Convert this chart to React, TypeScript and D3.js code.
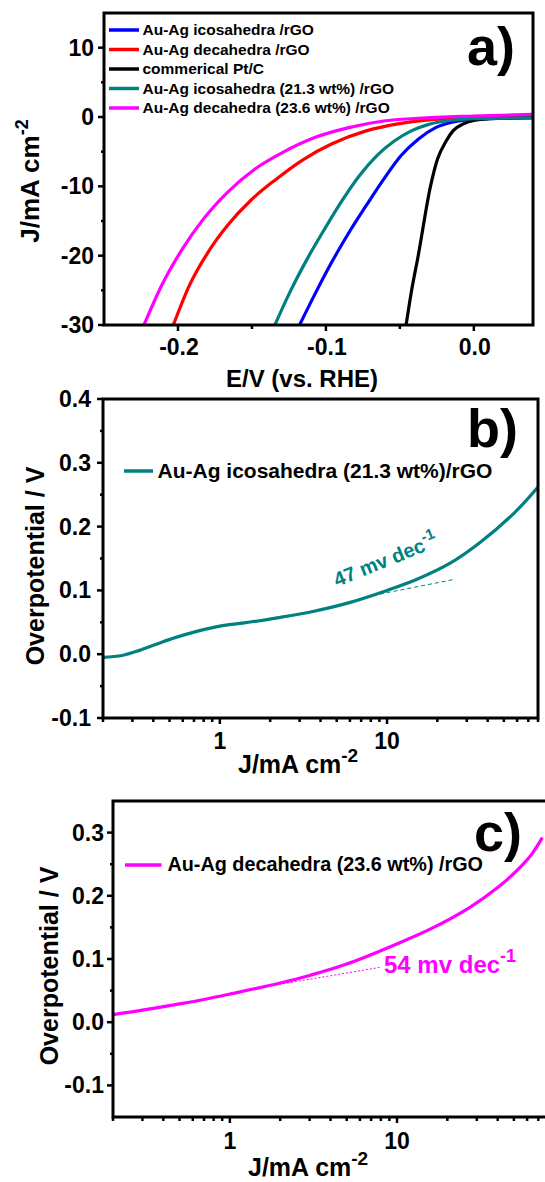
import React from "react";
import * as d3 from "d3";

// ---------- Panel a: polarization curves ----------
const seriesNamesA = [
  "Au-Ag icosahedra /rGO",
  "Au-Ag decahedra /rGO",
  "commerical Pt/C",
  "Au-Ag icosahedra (21.3 wt%) /rGO",
  "Au-Ag decahedra (23.6 wt%) /rGO",
];
const seriesColorsA = ["#0000ff", "#ff0000", "#000000", "#008080", "#ff00ff"];

const potentialBlue = [-0.1178, -0.108, -0.0962, -0.0845, -0.0728, -0.061, -0.0493, -0.0376, -0.0258, -0.0141, 0, 0.04];
const currentBlue = [-30, -25.8, -21, -16.7, -12.8, -9.0, -5.6, -3.2, -1.54, -0.72, -0.34, -0.1];

const potentialRed = [-0.2031, -0.1925, -0.1784, -0.1667, -0.1502, -0.1338, -0.115, -0.0962, -0.0728, -0.0493, -0.0258, 0, 0.04];
const currentRed = [-30, -24.4, -19.1, -15.7, -11.9, -9.0, -6.1, -3.9, -2.0, -0.91, -0.34, 0, 0.29];

const potentialPt = [-0.0458, -0.0423, -0.0376, -0.0293, -0.0246, -0.0188, -0.0141, -0.007, 0, 0.015, 0.04];
const currentPt = [-30, -25.3, -20, -10, -6.1, -3.5, -2.0, -1.0, -0.5, -0.2, -0.1];

const potentialTeal = [-0.1345, -0.1244, -0.1127, -0.101, -0.0892, -0.0775, -0.0657, -0.054, -0.0423, -0.0305, -0.0141, 0, 0.04];
const currentTeal = [-30, -25.3, -20.5, -16.2, -12.1, -8.5, -5.6, -3.5, -2.0, -1.06, -0.43, -0.24, -0.14];

const potentialMagenta = [-0.223, -0.2113, -0.1972, -0.1831, -0.1667, -0.1479, -0.1291, -0.108, -0.0845, -0.061, -0.0376, 0, 0.04];
const currentMagenta = [-30, -24.4, -19.1, -14.8, -10.9, -7.5, -5.1, -3.0, -1.54, -0.58, -0.19, 0.14, 0.38];

const xTicksA = [-0.2, -0.1, 0.0];
const xTickLabelsA = ["-0.2", "-0.1", "0.0"];
const xMinorA = [-0.15, -0.05];
const yTicksA = [-30, -20, -10, 0, 10];
const yTickLabelsA = ["-30", "-20", "-10", "0", "10"];
const yMinorA = [-25, -15, -5, 5];

// ---------- Panel b: Tafel, icosahedra 21.3 wt% ----------
const currentB = [0.2, 0.26, 0.33, 0.42, 0.54, 0.71, 1, 1.4, 2.2, 3.6, 5.8, 10, 15, 24, 36, 58, 80];
const overpotB = [-0.005, -0.002, 0.006, 0.016, 0.026, 0.035, 0.044, 0.049, 0.057, 0.067, 0.08, 0.1, 0.117, 0.143, 0.175, 0.222, 0.262];
const tafelCurrentB = [7.5, 25];
const tafelOverpotB = [0.09, 0.117];

const yTicksB = [-0.1, 0, 0.1, 0.2, 0.3, 0.4];
const yTickLabelsB = ["-0.1", "0.0", "0.1", "0.2", "0.3", "0.4"];
const yMinorB = [-0.05, 0.05, 0.15, 0.25, 0.35];

// ---------- Panel c: Tafel, decahedra 23.6 wt% ----------
const currentC = [0.2, 0.3, 0.5, 0.7, 1, 2, 3, 5, 10, 16, 27, 40, 55, 64, 74];
const overpotC = [0.012, 0.019, 0.029, 0.036, 0.0445, 0.062, 0.074, 0.092, 0.124, 0.148, 0.181, 0.213, 0.246, 0.266, 0.292];
const tafelCurrentC = [1.5, 8];
const tafelOverpotC = [0.0545, 0.087];

const yTicksC = [-0.1, 0, 0.1, 0.2, 0.3];
const yTickLabelsC = ["-0.1", "0.0", "0.1", "0.2", "0.3"];
const yMinorC = [-0.05, 0.05, 0.15, 0.25];

const logMajor = [1, 10];
const logMajorLabels = ["1", "10"];

const FONT = "'Liberation Sans', Arial, Helvetica, sans-serif";
const TEAL = "#008080";
const MAGENTA = "#ff00ff";

function zip(a: number[], b: number[]): [number, number][] {
  return a.map((v, i) => [v, b[i]]);
}

function Frame({ x0, x1, y0, y1 }: { x0: number; x1: number; y0: number; y1: number }) {
  return <rect x={x0} y={y0} width={x1 - x0} height={y1 - y0} fill="none" stroke="#000" strokeWidth={3} />;
}

export default function App() {
  // scales
  const xA = d3.scaleLinear().domain([-0.25, 0.04]).range([104, 533]);
  const yA = d3.scaleLinear().domain([-30, 15]).range([325, 13]);
  const xB = d3.scaleLog().domain([0.2, 80]).range([103, 538]);
  const yB = d3.scaleLinear().domain([-0.1, 0.4]).range([718, 399]);
  const xC = d3.scaleLog().domain([0.2, 80]).range([113, 548]);
  const yC = d3.scaleLinear().domain([-0.15, 0.35]).range([1117, 801]);

  const lineA = d3
    .line<[number, number]>()
    .x((d) => xA(d[0]))
    .y((d) => yA(d[1]))
    .curve(d3.curveMonotoneX);
  const lineB = d3
    .line<[number, number]>()
    .x((d) => xB(d[0]))
    .y((d) => yB(d[1]))
    .curve(d3.curveCatmullRom.alpha(0.5));
  const lineC = d3
    .line<[number, number]>()
    .x((d) => xC(d[0]))
    .y((d) => yC(d[1]))
    .curve(d3.curveCatmullRom.alpha(0.5));

  const seriesA = [
    zip(potentialBlue, currentBlue),
    zip(potentialRed, currentRed),
    zip(potentialPt, currentPt),
    zip(potentialTeal, currentTeal),
    zip(potentialMagenta, currentMagenta),
  ];

  const tickFont = { fontFamily: FONT, fontWeight: 700, fontSize: 23 } as const;

  const logTicksB = xB.ticks().filter((t) => !logMajor.some((m) => Math.abs(m - t) < 1e-9));
  const logTicksC = xC.ticks().filter((t) => !logMajor.some((m) => Math.abs(m - t) < 1e-9));

  return (
    <svg
      width={545}
      height={1182}
      style={{ position: "absolute", left: 0, top: 0, background: "#fff" }}
      xmlns="http://www.w3.org/2000/svg"
    >
      <rect x={0} y={0} width={545} height={1182} fill="#fff" />
      <defs>
        <clipPath id="clipA">
          <rect x={104} y={13} width={429} height={312} />
        </clipPath>
        <clipPath id="clipB">
          <rect x={103} y={399} width={435} height={319} />
        </clipPath>
        <clipPath id="clipC">
          <rect x={113} y={801} width={435} height={316} />
        </clipPath>
      </defs>

      {/* ================= Panel a ================= */}
      <g>
        <g clipPath="url(#clipA)">
          {seriesA.map((s, i) => (
            <path key={i} d={lineA(s) || ""} fill="none" stroke={seriesColorsA[i]} strokeWidth={3.2} />
          ))}
        </g>
        <Frame x0={104} x1={533} y0={13} y1={325} />
        {xTicksA.map((t, i) => (
          <g key={"xa" + i}>
            <line x1={xA(t)} x2={xA(t)} y1={325} y2={331} stroke="#000" strokeWidth={2.5} />
            <text x={xA(t) + 1} y={355} textAnchor="middle" style={tickFont}>
              {xTickLabelsA[i]}
            </text>
          </g>
        ))}
        {xMinorA.map((t, i) => (
          <line key={"xam" + i} x1={xA(t)} x2={xA(t)} y1={325} y2={329} stroke="#000" strokeWidth={2.5} />
        ))}
        {yTicksA.map((t, i) => (
          <g key={"ya" + i}>
            <line x1={98} x2={104} y1={yA(t)} y2={yA(t)} stroke="#000" strokeWidth={2.5} />
            <text x={94} y={yA(t) + 8} textAnchor="end" style={tickFont}>
              {yTickLabelsA[i]}
            </text>
          </g>
        ))}
        {yMinorA.map((t, i) => (
          <line key={"yam" + i} x1={101} x2={104} y1={yA(t)} y2={yA(t)} stroke="#000" strokeWidth={2.5} />
        ))}
        <text
          transform="translate(39,181) rotate(-90)"
          textAnchor="middle"
          style={{ fontFamily: FONT, fontWeight: 700, fontSize: 26 }}
        >
          J/mA cm
          <tspan dy={-11} fontSize={18}>
            -2
          </tspan>
        </text>
        <text x={302} y={387} textAnchor="middle" style={{ fontFamily: FONT, fontWeight: 700, fontSize: 24 }}>
          E/V (vs. RHE)
        </text>
        {seriesNamesA.map((name, i) => {
          const cy = 30 + i * 19.5;
          return (
            <g key={"lg" + i}>
              <line x1={109} x2={139} y1={cy} y2={cy} stroke={seriesColorsA[i]} strokeWidth={3.5} />
              <text x={142.5} y={cy + 5.4} style={{ fontFamily: FONT, fontWeight: 700, fontSize: 15.5 }}>
                {name}
              </text>
            </g>
          );
        })}
        <text x={467} y={65} style={{ fontFamily: FONT, fontWeight: 700, fontSize: 54 }}>
          a)
        </text>
      </g>

      {/* ================= Panel b ================= */}
      <g>
        <g clipPath="url(#clipB)">
          <path
            d={lineB(zip(tafelCurrentB, tafelOverpotB)) || ""}
            fill="none"
            stroke={TEAL}
            strokeWidth={1}
            strokeDasharray="4,3"
          />
          <path d={lineB(zip(currentB, overpotB)) || ""} fill="none" stroke={TEAL} strokeWidth={3.2} />
        </g>
        <Frame x0={103} x1={538} y0={399} y1={718} />
        {logMajor.map((t, i) => (
          <g key={"xb" + i}>
            <line x1={xB(t)} x2={xB(t)} y1={718} y2={724} stroke="#000" strokeWidth={2.5} />
            <text x={xB(t)} y={749} textAnchor="middle" style={tickFont}>
              {logMajorLabels[i]}
            </text>
          </g>
        ))}
        {logTicksB.map((t, i) => (
          <line key={"xbm" + i} x1={xB(t)} x2={xB(t)} y1={718} y2={722} stroke="#000" strokeWidth={2.5} />
        ))}
        {yTicksB.map((t, i) => (
          <g key={"yb" + i}>
            <line x1={97} x2={103} y1={yB(t)} y2={yB(t)} stroke="#000" strokeWidth={2.5} />
            <text x={91} y={yB(t) + 8} textAnchor="end" style={tickFont}>
              {yTickLabelsB[i]}
            </text>
          </g>
        ))}
        {yMinorB.map((t, i) => (
          <line key={"ybm" + i} x1={100} x2={103} y1={yB(t)} y2={yB(t)} stroke="#000" strokeWidth={2.5} />
        ))}
        <text
          transform="translate(44,566) rotate(-90)"
          textAnchor="middle"
          style={{ fontFamily: FONT, fontWeight: 700, fontSize: 25 }}
        >
          Overpotential / V
        </text>
        <text x={238} y={773} style={{ fontFamily: FONT, fontWeight: 700, fontSize: 25 }}>
          J/mA cm
          <tspan dy={-11} fontSize={19}>
            -2
          </tspan>
        </text>
        <line x1={124} x2={153} y1={471} y2={471} stroke={TEAL} strokeWidth={3.5} />
        <text x={157.5} y={477.5} style={{ fontFamily: FONT, fontWeight: 700, fontSize: 21 }}>
          Au-Ag icosahedra (21.3 wt%)/rGO
        </text>
        <text
          transform="translate(337,587) rotate(-22)"
          style={{ fontFamily: FONT, fontWeight: 700, fontSize: 20 }}
          fill={TEAL}
        >
          47 mv dec
          <tspan dy={-9} fontSize={15}>
            -1
          </tspan>
        </text>
        <text x={467} y={447} style={{ fontFamily: FONT, fontWeight: 700, fontSize: 54 }}>
          b)
        </text>
      </g>

      {/* ================= Panel c ================= */}
      <g>
        <g clipPath="url(#clipC)">
          <path
            d={lineC(zip(tafelCurrentC, tafelOverpotC)) || ""}
            fill="none"
            stroke={MAGENTA}
            strokeWidth={1}
            strokeDasharray="2,2"
          />
          <path d={lineC(zip(currentC, overpotC)) || ""} fill="none" stroke={MAGENTA} strokeWidth={3.2} />
        </g>
        <Frame x0={113} x1={548} y0={801} y1={1117} />
        {logMajor.map((t, i) => (
          <g key={"xc" + i}>
            <line x1={xC(t)} x2={xC(t)} y1={1117} y2={1123} stroke="#000" strokeWidth={2.5} />
            <text x={xC(t)} y={1149} textAnchor="middle" style={tickFont}>
              {logMajorLabels[i]}
            </text>
          </g>
        ))}
        {logTicksC.map((t, i) => (
          <line key={"xcm" + i} x1={xC(t)} x2={xC(t)} y1={1117} y2={1121} stroke="#000" strokeWidth={2.5} />
        ))}
        {yTicksC.map((t, i) => (
          <g key={"yc" + i}>
            <line x1={107} x2={113} y1={yC(t)} y2={yC(t)} stroke="#000" strokeWidth={2.5} />
            <text x={104} y={yC(t) + 8} textAnchor="end" style={tickFont}>
              {yTickLabelsC[i]}
            </text>
          </g>
        ))}
        {yMinorC.map((t, i) => (
          <line key={"ycm" + i} x1={110} x2={113} y1={yC(t)} y2={yC(t)} stroke="#000" strokeWidth={2.5} />
        ))}
        <text
          transform="translate(58,966) rotate(-90)"
          textAnchor="middle"
          style={{ fontFamily: FONT, fontWeight: 700, fontSize: 25 }}
        >
          Overpotential / V
        </text>
        <text x={248} y={1176} style={{ fontFamily: FONT, fontWeight: 700, fontSize: 25 }}>
          J/mA cm
          <tspan dy={-11} fontSize={19}>
            -2
          </tspan>
        </text>
        <line x1={125} x2={161.5} y1={865} y2={865} stroke={MAGENTA} strokeWidth={3.5} />
        <text x={167.5} y={871} style={{ fontFamily: FONT, fontWeight: 700, fontSize: 19.8 }}>
          Au-Ag decahedra (23.6 wt%) /rGO
        </text>
        <text x={384} y={973} style={{ fontFamily: FONT, fontWeight: 700, fontSize: 24 }} fill={MAGENTA}>
          54 mv dec
          <tspan dy={-11} fontSize={18}>
            -1
          </tspan>
        </text>
        <text x={474} y={851} style={{ fontFamily: FONT, fontWeight: 700, fontSize: 54 }}>
          c)
        </text>
      </g>
    </svg>
  );
}
